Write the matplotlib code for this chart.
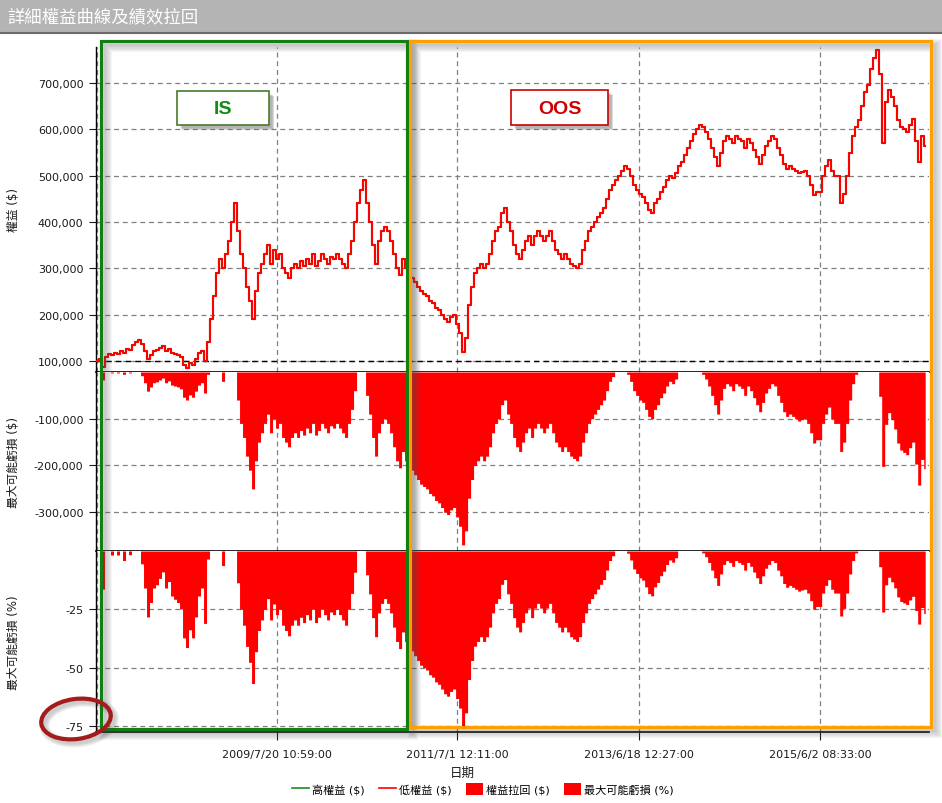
import numpy as np
import pandas as pd
import matplotlib
matplotlib.use("Agg")
import matplotlib.pyplot as plt
from matplotlib.patches import Rectangle, Ellipse, Patch
from matplotlib.lines import Line2D
from matplotlib.ticker import FuncFormatter

plt.rcParams['font.family'] = ['DejaVu Sans', 'Noto Sans CJK TC']

# equity (in thousands of $) left to right, evenly spaced in time
equity_k = [
    # 2007/8 - 2008/12, flat start
    100, 104, 87, 109, 115, 113, 117, 115, 122, 117, 126, 124, 135, 141, 145, 137,
    122, 104, 113, 122, 124, 128, 132, 122, 126, 117, 115, 113, 109, 91, 85, 96,
    91, 104, 117, 122, 100,
    # 2009 run-up and rest of IS
    140, 190, 240, 290, 320, 300, 330, 360, 400, 440, 380, 330, 300, 260, 230, 190,
    250, 290, 310, 330, 350, 310, 340, 320, 330, 300, 290, 280, 300, 310, 300, 315,
    305, 320, 310, 330, 305, 315, 330, 320, 310, 325, 320, 330, 320, 310, 300, 330,
    360, 400, 440, 470, 490, 440, 400, 350, 310, 360, 380, 390, 380, 360, 330, 300,
    285, 320, 300, 290,
    # OOS, 2011 slump and recovery
    280, 270, 260, 250, 245, 240, 230, 225, 215, 210, 200, 190, 185, 195, 200, 180,
    160, 120, 150, 220, 260, 290, 300, 310, 300, 310, 330, 360, 380, 390, 420, 430,
    400, 380, 350, 330, 320, 340, 360, 370, 350, 370, 380, 370, 360, 370, 380, 360,
    340, 330, 320, 330, 320, 310, 305, 300, 310, 340, 360, 380, 390, 400, 410,
    # 2013 onwards
    420, 430, 450, 470, 480, 490, 500, 510, 520, 515, 500, 480, 470, 460, 455, 440,
    425, 420, 440, 450, 465, 475, 490, 500, 495, 505, 520, 530, 545, 560, 575, 590,
    600, 610, 605, 595, 580, 560, 540, 520, 550, 575, 585, 580, 570, 585, 580, 575,
    560, 580, 570, 555, 540, 525, 545, 565, 575, 585, 580, 560, 545, 525, 515, 520,
    515, 510, 505, 508, 510, 500, 480, 458, 465, 465, 500, 520, 535, 510, 500, 500,
    440, 460, 500, 550, 585, 605, 620, 650, 680, 695, 730, 755, 772, 720, 570, 660,
    685, 670, 650, 620, 605, 600, 595, 610, 622, 575, 530, 585, 565,
]
start_date = "2007-08-09"
end_date = "2016-07-21"

tick_dates = ["2009-07-20 10:59:00", "2011-07-01 12:11:00",
              "2013-06-18 12:27:00", "2015-06-02 08:33:00"]
tick_labels = ["2009/7/20 10:59:00", "2011/7/1 12:11:00",
               "2013/6/18 12:27:00", "2015/6/2 08:33:00"]

eq_ticks = [100000, 200000, 300000, 400000, 500000, 600000, 700000]
dd_ticks = [-100000, -200000, -300000]
pct_ticks = [-25, -50, -75]

title = "詳細權益曲線及績效拉回"
y_labels = ["權益 ($)", "最大可能虧損 ($)", "最大可能虧損 (%)"]
legend_labels = ["高權益 ($)", "低權益 ($)", "權益拉回 ($)", "最大可能虧損 (%)"]

dates = pd.date_range(start_date, end_date, periods=len(equity_k))
equity = np.array(equity_k) * 1000.0
peak = np.maximum.accumulate(equity)
dd = equity - peak
dd_pct = dd / peak * 100

W, H = 942, 804
fig = plt.figure(figsize=(W / 100, H / 100), dpi=100)


def px_box(l, t, r, b):
    return [l / W, 1 - b / H, (r - l) / W, (b - t) / H]


ax1 = fig.add_axes(px_box(96, 48, 929, 373))
ax2 = fig.add_axes(px_box(96, 373, 929, 552), sharex=ax1)
ax3 = fig.add_axes(px_box(96, 552, 929, 733), sharex=ax1)

grid_kw = dict(color="#808080", linestyle=(0, (4, 3)), linewidth=0.9)
for ax in (ax1, ax2, ax3):
    for s in ("top", "right"):
        ax.spines[s].set_visible(False)
    ax.spines["left"].set_linewidth(1.0)
    ax.spines["bottom"].set_linewidth(1.2)
    ax.set_axisbelow(True)
    ax.grid(True, **grid_kw)
    ax.axvline(dates[0], zorder=0.5, **grid_kw)
    ax.tick_params(axis="y", direction="out", length=5, labelsize=8, pad=4,
                   colors="#1a1a1a")

ax1.tick_params(axis="x", bottom=False, labelbottom=False)
ax2.tick_params(axis="x", bottom=False, labelbottom=False)
ax3.tick_params(axis="x", direction="out", length=6, labelsize=8, pad=6,
                colors="#1a1a1a")

# equity: high in green, low in red drawn on top
ax1.plot(dates, equity, color="#1e8c1e", lw=1.5, drawstyle="steps-mid", zorder=3)
ax1.plot(dates, equity, color="#ff0000", lw=1.5, drawstyle="steps-mid", zorder=4)
ax1.axhline(100000, color="black", linestyle=(0, (4, 3)), lw=1.0, zorder=2)
ax1.set_ylim(76000, 778000)
ax1.set_yticks(eq_ticks)

ax2.fill_between(dates, dd, 0, color="#ff0000", step="mid", lw=0, zorder=3)
ax2.set_ylim(-383000, 0)
ax2.set_yticks(dd_ticks)

ax3.fill_between(dates, dd_pct, 0, color="#ff0000", step="mid", lw=0, zorder=3)
ax3.set_ylim(-77.6, 0)
ax3.set_yticks(pct_ticks)

fmt = FuncFormatter(lambda v, p: f"{v:,.0f}")
for ax in (ax1, ax2, ax3):
    ax.yaxis.set_major_formatter(fmt)

ax3.set_xlim(pd.Timestamp("2007-08-05"), pd.Timestamp("2016-08-05"))
ax3.set_xticks([pd.Timestamp(d) for d in tick_dates])
ax3.set_xticklabels(tick_labels)

for ax, lab in zip((ax1, ax2, ax3), y_labels):
    ax.set_ylabel(lab, fontsize=8.5, color="#1a1a1a")
    ax.yaxis.set_label_coords(-0.091, 0.5)

fig.text(462 / W, 1 - 773 / H, "日期", ha="center", va="center", fontsize=9,
         color="#1a1a1a")

handles = [Line2D([], [], color="#1e8c1e", lw=1.2),
           Line2D([], [], color="#ff0000", lw=1.2),
           Patch(facecolor="#ff0000"),
           Patch(facecolor="#ff0000")]
fig.legend(handles, legend_labels, loc="center", bbox_to_anchor=(483 / W, 1 - 790 / H),
           ncol=4, frameon=False, fontsize=8, handlelength=1.5, handleheight=1.2,
           handletextpad=0.3, columnspacing=1.3)

# overlay in pixel coords for title bar and annotations
ov = fig.add_axes([0, 0, 1, 1], zorder=10)
ov.set_xlim(0, W)
ov.set_ylim(H, 0)
ov.axis("off")
ov.patch.set_alpha(0)

ov.add_patch(Rectangle((0, 0), W, 33, facecolor="#b4b4b4", edgecolor="none"))
ov.plot([0, W], [33.5, 33.5], color="#6b6b6b", lw=1.5)
ov.text(7, 17, title, color="white", fontsize=12.5, va="center", ha="left")


def shadow_rect(x, y, w, h, color):
    for i in range(6):
        ov.add_patch(Rectangle((x + 4, y + 4), w, h, fill=False, edgecolor="#555555",
                               lw=1.5 + 1.6 * i, alpha=0.06))
    ov.add_patch(Rectangle((x, y), w, h, fill=False, edgecolor=color, lw=2.2))


shadow_rect(101, 42, 306, 688, "#108010")
shadow_rect(410, 42, 521, 686, "#ffa000")


def label_box(x, y, w, h, edge, text, tcolor):
    for i in range(5):
        ov.add_patch(Rectangle((x + 3 + i * 0.6, y + 3 + i * 0.6), w, h,
                               facecolor="#666666", edgecolor="none", alpha=0.12))
    ov.add_patch(Rectangle((x, y), w, h, facecolor="white", edgecolor=edge, lw=1.2))
    ov.text(x + w / 2, y + h / 2 + 1, text, color=tcolor, fontsize=14,
            fontweight="bold", family="Liberation Sans", ha="center", va="center")


label_box(177, 92, 92, 34, "#4a7a2a", "IS", "#138a13")
label_box(511, 91, 97, 35, "#cc0000", "OOS", "#cc0000")

for i in range(4):
    ov.add_patch(Ellipse((79, 723), 70, 40, angle=-8, fill=False, edgecolor="#444444",
                         lw=3 + 1.5 * i, alpha=0.07))
ov.add_patch(Ellipse((76, 720), 70, 40, angle=-8, fill=False, edgecolor="#a51a1a", lw=3))

fig.savefig("out.png", dpi=100)
